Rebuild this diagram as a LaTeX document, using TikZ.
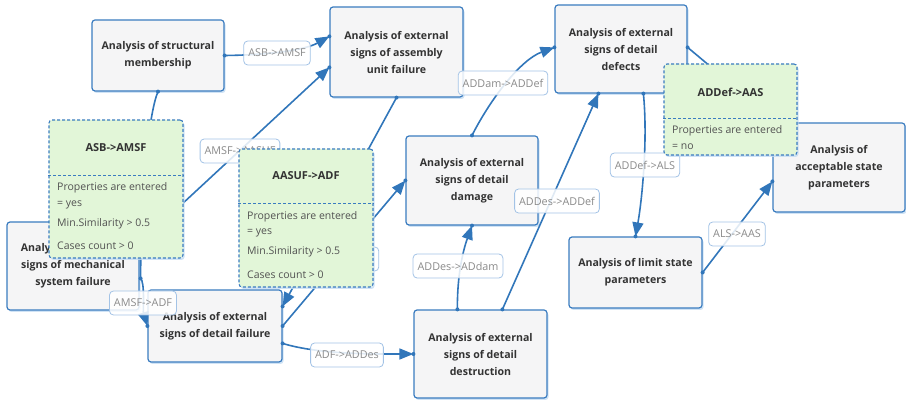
\documentclass[tikz,border=0pt]{standalone}
\usepackage{fontspec}
\setmainfont{Open Sans}
\usetikzlibrary{arrows.meta,calc,shadows}
\definecolor{edgeblue}{HTML}{3176BA}
\definecolor{boxblue}{HTML}{3A7CC0}
\definecolor{boxfill}{HTML}{F5F5F6}
\definecolor{gfill}{HTML}{E2F6D8}
\definecolor{lblborder}{HTML}{A3C3E6}
\definecolor{lbltext}{HTML}{8A8A8A}
\definecolor{txtdark}{HTML}{333333}
\definecolor{glow}{HTML}{C4DCF2}

\begin{document}
\begin{tikzpicture}[x=1pt,y=-1pt,
  box/.style={draw=boxblue, line width=1.2pt, rounded corners=3pt, fill=boxfill,
    align=center, text=txtdark, font=\fontsize{10.6}{17}\selectfont\bfseries, inner sep=0pt,
    drop shadow={shadow xshift=1.5pt, shadow yshift=-2pt, fill=glow, opacity=0.8}},
  gbox/.style={draw=boxblue, line width=1.1pt, dash pattern=on 3pt off 2pt,
    rounded corners=3pt, fill=gfill, inner sep=0pt,
    drop shadow={shadow xshift=1.5pt, shadow yshift=-2pt, fill=glow, opacity=0.8}},
  gdiv/.style={draw=boxblue, line width=1.1pt, dash pattern=on 3pt off 2pt},
  gtitle/.style={font=\fontsize{11}{13}\selectfont\bfseries, text=txtdark},
  gtext/.style={font=\fontsize{10.5}{12}\selectfont, text=txtdark!85, anchor=west, inner sep=0pt},
  elabel/.style={draw=lblborder, line width=0.8pt, rounded corners=4pt, fill=white,
    fill opacity=0.85, text opacity=1, text=lbltext, font=\fontsize{10.8}{12}\selectfont,
    inner xsep=4.5pt, minimum height=24pt},
  edge/.style={draw=edgeblue, line width=1.6pt},
  arr/.style={edge, -{Triangle[length=14pt,width=11pt]}},
  dot/.style={fill=edgeblue}
]
\useasboundingbox (0,0) rectangle (906,403);

% ---- analysis steps ----
\node[box, minimum width=132pt, minimum height=71pt] (asm)   at (158,55.5)  {Analysis of structural\\membership};
\node[box, minimum width=133pt, minimum height=90pt] (aeauf) at (396.5,52)  {Analysis of external\\signs of assembly\\unit failure};
\node[box, minimum width=132pt, minimum height=88pt] (dd)    at (621,49)    {Analysis of external\\signs of detail\\defects};
\node[box, minimum width=132pt, minimum height=89pt] (aas)   at (839,167.5) {Analysis of\\acceptable state\\parameters};
\node[box, minimum width=133pt, minimum height=71pt] (als)   at (635.5,272.5) {Analysis of limit state\\parameters};
\node[box, minimum width=133pt, minimum height=88pt] (des)   at (480.5,354) {Analysis of external\\signs of detail\\destruction};
\node[box, minimum width=132pt, minimum height=89pt] (dam)   at (472,180.5) {Analysis of external\\signs of detail\\damage};
\node[box, minimum width=134pt, minimum height=72pt] (adf)   at (215,326)   {Analysis of external\\signs of detail failure};
\node[box, minimum width=132pt, minimum height=88pt] (amsf)  at (73,266)    {Analysis of external\\signs of mechanical\\system failure};

% ---- connection points ----
\coordinate (aeaufW1) at ($(aeauf.north west)+(0,30)$);
\coordinate (aeaufW2) at ($(aeauf.north west)+(0,61)$);
\coordinate (ddW)  at ($(dd.north west)+(0,43)$);
\coordinate (ddB1) at ($(dd.south west)+(44,0)$);
\coordinate (ddB2) at ($(dd.south west)+(89,0)$);
\coordinate (ddE)  at ($(dd.north east)+(0,43)$);
\coordinate (desT1) at ($(des.north west)+(44,0)$);
\coordinate (desT2) at ($(des.north west)+(89,0)$);
\coordinate (aasW) at ($(aas.north west)+(0,59)$);
\coordinate (aasT) at ($(aas.north west)+(5,0)$);
\coordinate (adfE1) at ($(adf.north east)+(0,17)$);
\coordinate (adfE3) at ($(adf.north east)+(0,54)$);
\coordinate (amsfE1) at ($(amsf.north east)+(1,57)$);
\coordinate (amsfE2) at ($(amsf.north east)+(0,22)$);

% ---- connectors ----
\draw[arr] (asm.east) .. controls (270,55) and (305,50) .. (aeaufW1);
\draw[edge] (asm.south) .. controls (150,110) and (141,180) .. (amsfE1);
\draw[arr] (amsfE2) -- (aeaufW2);
\draw[arr] (aeauf.south) -- (adfE1);
\draw[arr] (adf.east) -- (dam.west);
\draw[arr] (adfE3) .. controls (320,355) and (380,354) .. (des.west);
\draw[arr] (desT1) .. controls (457,270) and (465,245) .. (dam.south);
\draw[arr] (desT2) -- (ddB1);
\draw[arr] (dam.north) .. controls (490,100) and (520,60) .. (ddW);
\draw[arr] (ddB2) .. controls (648,140) and (642,200) .. (als.north);
\draw[arr] (als.east) -- (aasW);
\draw[arr] (ddE) -- (aasT);
\draw[arr] (amsfE1) .. controls (145,282) and (143,312) .. (adf.west);

\foreach \p in {asm.east, asm.south, aeaufW1, aeaufW2, aeauf.south, ddW, ddB1, ddB2, ddE,
  dam.west, dam.north, dam.south, des.west, desT1, desT2, als.north, als.east, aasW,
  adf.west, adfE1, adf.east, adfE3, amsfE1}
  \fill[dot] (\p) circle (2pt);

% ---- connector labels ----
\node[elabel] (l1)  at (277,53)  {ASB->AMSF};
\node[elabel] (l2)  at (240,151) {AMSF->AASUF};
\node[elabel] (l3)  at (340,259) {ADF->ADDam};
\node[elabel] (l4)  at (503,83)  {ADDam->ADDef};
\node[elabel] (l5)  at (557,201) {ADDes->ADDef};
\node[elabel] (l6)  at (645,165) {ADDef->ALS};
\node[elabel] (l7)  at (737,234) {ALS->AAS};
\node[elabel] (l8)  at (458,266) {ADDes->ADdam};
\node[elabel] (l9)  at (347,355) {ADF->ADDes};
\node[elabel] (l10) at (143,303) {AMSF->ADF};

% ---- expanded connector panels ----
\node[gbox, minimum width=134pt, minimum height=138pt] (g1) at (116,189) {};
\draw[gdiv] ($(g1.north west)+(0,56)$) -- ($(g1.north east)+(0,56)$);
\node[gtitle] (g1t) at (116,148) {ASB->AMSF};
\node[gtext] (g1a) at (57,188) {Properties are entered};
\node[gtext] (g1b) at (57,205) {= yes};
\node[gtext] (g1c) at (57,224) {Min.Similarity > 0.5};
\node[gtext] (g1d) at (57,246) {Cases count > 0};

\node[gbox, minimum width=134pt, minimum height=138pt] (g2) at (306,218) {};
\draw[gdiv] ($(g2.north west)+(0,55)$) -- ($(g2.north east)+(0,55)$);
\node[gtitle] (g2t) at (306,176) {AASUF->ADF};
\node[gtext] (g2a) at (247,217) {Properties are entered};
\node[gtext] (g2b) at (247,233) {= yes};
\node[gtext] (g2c) at (247,252) {Min.Similarity > 0.5};
\node[gtext] (g2d) at (247,275) {Cases count > 0};

\node[gbox, minimum width=133pt, minimum height=91pt] (g3) at (730.5,109.5) {};
\draw[gdiv] ($(g3.north west)+(0,55)$) -- ($(g3.north east)+(0,55)$);
\node[gtitle] (g3t) at (730.5,92) {ADDef->AAS};
\node[gtext] (g3a) at (672,131) {Properties are entered};
\node[gtext] (g3b) at (672,147) {= no};
\end{tikzpicture}
\end{document}
